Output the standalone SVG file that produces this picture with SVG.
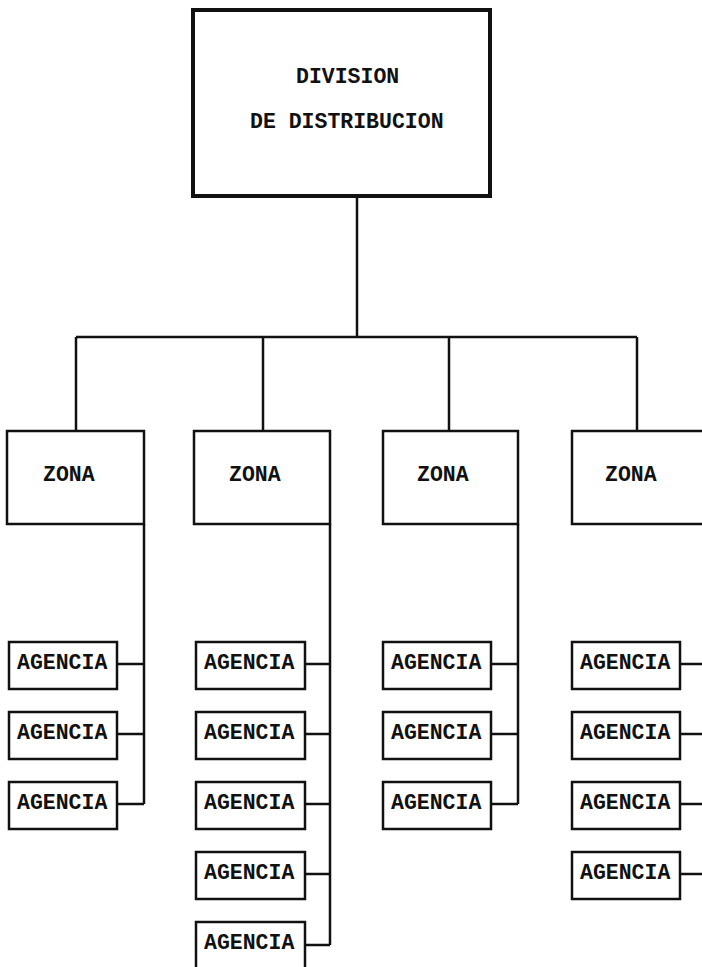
<svg xmlns="http://www.w3.org/2000/svg" width="702" height="967" viewBox="0 0 702 967">
<style>
.box{fill:#fff;stroke:#111;stroke-width:2.5}
.top{fill:#fff;stroke:#111;stroke-width:4}
.ln{fill:none;stroke:#111;stroke-width:2.5}
.t{font-family:"Liberation Mono","Courier New",monospace;font-weight:bold;font-size:21.5px;fill:#111}
</style>
<rect width="702" height="967" fill="#fff"/>
<g id="connectors">
<path class="ln" d="M357 196V337M76 337H637M76 337V431M263 337V431M449 337V431M637 337V431"/>
<path class="ln" d="M144 524V804M117 664H144M117 734H144M117 804H144"/>
<path class="ln" d="M330 524V945M305 664H330M305 734H330M305 804H330M305 874H330M305 945H330"/>
<path class="ln" d="M518 524V804M491 664H518M491 734H518M491 804H518"/>
<path class="ln" d="M680 664H702M680 734H702M680 804H702M680 874H702"/>
</g>
<g id="division">
<rect class="top" x="193" y="10" width="297" height="186"/>
<text class="t" x="296" y="83">DIVISION</text>
<text class="t" x="250" y="128">DE DISTRIBUCION</text>
</g>
<g id="zona1"><rect class="box" x="7" y="431" width="137" height="93"/><text class="t" x="43" y="481">ZONA</text></g>
<g id="zona2"><rect class="box" x="194" y="431" width="136" height="93"/><text class="t" x="229" y="481">ZONA</text></g>
<g id="zona3"><rect class="box" x="383" y="431" width="135" height="93"/><text class="t" x="417" y="481">ZONA</text></g>
<g id="zona4"><rect class="box" x="572" y="431" width="136" height="93"/><text class="t" x="605" y="481">ZONA</text></g>
<g id="ag1-1"><rect class="box" x="9" y="642" width="108" height="47"/><text class="t" x="17" y="669">AGENCIA</text></g>
<g id="ag1-2"><rect class="box" x="9" y="712" width="108" height="47"/><text class="t" x="17" y="739">AGENCIA</text></g>
<g id="ag1-3"><rect class="box" x="9" y="782" width="108" height="47"/><text class="t" x="17" y="809">AGENCIA</text></g>
<g id="ag2-1"><rect class="box" x="196" y="642" width="109" height="47"/><text class="t" x="204" y="669">AGENCIA</text></g>
<g id="ag2-2"><rect class="box" x="196" y="712" width="109" height="47"/><text class="t" x="204" y="739">AGENCIA</text></g>
<g id="ag2-3"><rect class="box" x="196" y="782" width="109" height="47"/><text class="t" x="204" y="809">AGENCIA</text></g>
<g id="ag2-4"><rect class="box" x="196" y="852" width="109" height="47"/><text class="t" x="204" y="879">AGENCIA</text></g>
<g id="ag2-5"><rect class="box" x="196" y="922" width="109" height="47"/><text class="t" x="204" y="949">AGENCIA</text></g>
<g id="ag3-1"><rect class="box" x="383" y="642" width="108" height="47"/><text class="t" x="391" y="669">AGENCIA</text></g>
<g id="ag3-2"><rect class="box" x="383" y="712" width="108" height="47"/><text class="t" x="391" y="739">AGENCIA</text></g>
<g id="ag3-3"><rect class="box" x="383" y="782" width="108" height="47"/><text class="t" x="391" y="809">AGENCIA</text></g>
<g id="ag4-1"><rect class="box" x="572" y="642" width="108" height="47"/><text class="t" x="580" y="669">AGENCIA</text></g>
<g id="ag4-2"><rect class="box" x="572" y="712" width="108" height="47"/><text class="t" x="580" y="739">AGENCIA</text></g>
<g id="ag4-3"><rect class="box" x="572" y="782" width="108" height="47"/><text class="t" x="580" y="809">AGENCIA</text></g>
<g id="ag4-4"><rect class="box" x="572" y="852" width="108" height="47"/><text class="t" x="580" y="879">AGENCIA</text></g>
</svg>
